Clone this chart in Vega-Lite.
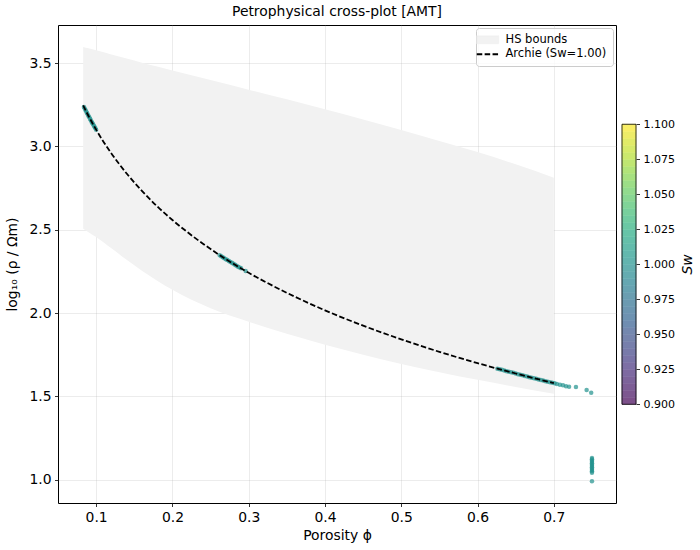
{
  "$schema": "https://vega.github.io/schema/vega-lite/v6.json",
  "padding": {"left": 5, "right": 3, "top": 4, "bottom": 5},
  "spacing": 6,
  "bounds": "flush",
  "resolve": {"scale": {"color": "independent", "fill": "independent"}, "legend": {"color": "independent"}},
  "datasets": {
    "hs": [
      {"phi": 0.083, "upper": 3.596, "lower": 2.505, "series": "HS bounds"},
      {"phi": 0.09, "upper": 3.588, "lower": 2.485, "series": "HS bounds"},
      {"phi": 0.10, "upper": 3.576, "lower": 2.456, "series": "HS bounds"},
      {"phi": 0.12, "upper": 3.551, "lower": 2.388, "series": "HS bounds"},
      {"phi": 0.14, "upper": 3.527, "lower": 2.319, "series": "HS bounds"},
      {"phi": 0.16, "upper": 3.502, "lower": 2.254, "series": "HS bounds"},
      {"phi": 0.18, "upper": 3.479, "lower": 2.194, "series": "HS bounds"},
      {"phi": 0.20, "upper": 3.455, "lower": 2.139, "series": "HS bounds"},
      {"phi": 0.25, "upper": 3.398, "lower": 2.029, "series": "HS bounds"},
      {"phi": 0.30, "upper": 3.340, "lower": 1.948, "series": "HS bounds"},
      {"phi": 0.35, "upper": 3.282, "lower": 1.875, "series": "HS bounds"},
      {"phi": 0.40, "upper": 3.222, "lower": 1.810, "series": "HS bounds"},
      {"phi": 0.45, "upper": 3.161, "lower": 1.750, "series": "HS bounds"},
      {"phi": 0.50, "upper": 3.098, "lower": 1.694, "series": "HS bounds"},
      {"phi": 0.55, "upper": 3.032, "lower": 1.645, "series": "HS bounds"},
      {"phi": 0.60, "upper": 2.966, "lower": 1.599, "series": "HS bounds"},
      {"phi": 0.65, "upper": 2.892, "lower": 1.556, "series": "HS bounds"},
      {"phi": 0.70, "upper": 2.812, "lower": 1.516, "series": "HS bounds"}
    ],
    "archie": [
      {"phi": 0.083, "logrho": 3.246, "series": "Archie (Sw=1.00)"},
      {"phi": 0.09, "logrho": 3.182, "series": "Archie (Sw=1.00)"},
      {"phi": 0.10, "logrho": 3.100, "series": "Archie (Sw=1.00)"},
      {"phi": 0.11, "logrho": 3.025, "series": "Archie (Sw=1.00)"},
      {"phi": 0.12, "logrho": 2.957, "series": "Archie (Sw=1.00)"},
      {"phi": 0.13, "logrho": 2.895, "series": "Archie (Sw=1.00)"},
      {"phi": 0.14, "logrho": 2.837, "series": "Archie (Sw=1.00)"},
      {"phi": 0.16, "logrho": 2.733, "series": "Archie (Sw=1.00)"},
      {"phi": 0.18, "logrho": 2.640, "series": "Archie (Sw=1.00)"},
      {"phi": 0.20, "logrho": 2.558, "series": "Archie (Sw=1.00)"},
      {"phi": 0.22, "logrho": 2.484, "series": "Archie (Sw=1.00)"},
      {"phi": 0.24, "logrho": 2.416, "series": "Archie (Sw=1.00)"},
      {"phi": 0.26, "logrho": 2.353, "series": "Archie (Sw=1.00)"},
      {"phi": 0.28, "logrho": 2.295, "series": "Archie (Sw=1.00)"},
      {"phi": 0.30, "logrho": 2.241, "series": "Archie (Sw=1.00)"},
      {"phi": 0.33, "logrho": 2.167, "series": "Archie (Sw=1.00)"},
      {"phi": 0.36, "logrho": 2.099, "series": "Archie (Sw=1.00)"},
      {"phi": 0.40, "logrho": 2.016, "series": "Archie (Sw=1.00)"},
      {"phi": 0.45, "logrho": 1.924, "series": "Archie (Sw=1.00)"},
      {"phi": 0.50, "logrho": 1.842, "series": "Archie (Sw=1.00)"},
      {"phi": 0.55, "logrho": 1.767, "series": "Archie (Sw=1.00)"},
      {"phi": 0.60, "logrho": 1.699, "series": "Archie (Sw=1.00)"},
      {"phi": 0.65, "logrho": 1.637, "series": "Archie (Sw=1.00)"},
      {"phi": 0.70, "logrho": 1.579, "series": "Archie (Sw=1.00)"}
    ],
    "samples": [
      {"phi": 0.084, "logrho": 3.236, "sw": 1.0},
      {"phi": 0.085, "logrho": 3.227, "sw": 1.0},
      {"phi": 0.086, "logrho": 3.218, "sw": 1.0},
      {"phi": 0.087, "logrho": 3.209, "sw": 1.0},
      {"phi": 0.088, "logrho": 3.200, "sw": 1.0},
      {"phi": 0.089, "logrho": 3.191, "sw": 1.0},
      {"phi": 0.090, "logrho": 3.182, "sw": 1.0},
      {"phi": 0.091, "logrho": 3.174, "sw": 1.0},
      {"phi": 0.092, "logrho": 3.165, "sw": 1.0},
      {"phi": 0.093, "logrho": 3.157, "sw": 1.0},
      {"phi": 0.094, "logrho": 3.148, "sw": 1.0},
      {"phi": 0.095, "logrho": 3.140, "sw": 1.0},
      {"phi": 0.096, "logrho": 3.132, "sw": 1.0},
      {"phi": 0.097, "logrho": 3.124, "sw": 1.0},
      {"phi": 0.098, "logrho": 3.116, "sw": 1.0},
      {"phi": 0.099, "logrho": 3.108, "sw": 1.0},
      {"phi": 0.100, "logrho": 3.100, "sw": 1.0},
      {"phi": 0.262, "logrho": 2.347, "sw": 1.0},
      {"phi": 0.264, "logrho": 2.341, "sw": 1.0},
      {"phi": 0.266, "logrho": 2.335, "sw": 1.0},
      {"phi": 0.268, "logrho": 2.329, "sw": 1.0},
      {"phi": 0.270, "logrho": 2.323, "sw": 1.0},
      {"phi": 0.272, "logrho": 2.318, "sw": 1.0},
      {"phi": 0.274, "logrho": 2.312, "sw": 1.0},
      {"phi": 0.276, "logrho": 2.306, "sw": 1.0},
      {"phi": 0.278, "logrho": 2.301, "sw": 1.0},
      {"phi": 0.280, "logrho": 2.295, "sw": 1.0},
      {"phi": 0.282, "logrho": 2.290, "sw": 1.0},
      {"phi": 0.284, "logrho": 2.284, "sw": 1.0},
      {"phi": 0.286, "logrho": 2.278, "sw": 1.0},
      {"phi": 0.288, "logrho": 2.273, "sw": 1.0},
      {"phi": 0.290, "logrho": 2.268, "sw": 1.0},
      {"phi": 0.296, "logrho": 2.252, "sw": 1.0},
      {"phi": 0.626, "logrho": 1.666, "sw": 1.0},
      {"phi": 0.629, "logrho": 1.662, "sw": 1.0},
      {"phi": 0.632, "logrho": 1.659, "sw": 1.0},
      {"phi": 0.635, "logrho": 1.655, "sw": 1.0},
      {"phi": 0.638, "logrho": 1.651, "sw": 1.0},
      {"phi": 0.641, "logrho": 1.648, "sw": 1.0},
      {"phi": 0.644, "logrho": 1.644, "sw": 1.0},
      {"phi": 0.647, "logrho": 1.641, "sw": 1.0},
      {"phi": 0.650, "logrho": 1.637, "sw": 1.0},
      {"phi": 0.653, "logrho": 1.633, "sw": 1.0},
      {"phi": 0.656, "logrho": 1.630, "sw": 1.0},
      {"phi": 0.659, "logrho": 1.626, "sw": 1.0},
      {"phi": 0.662, "logrho": 1.622, "sw": 1.0},
      {"phi": 0.665, "logrho": 1.619, "sw": 1.0},
      {"phi": 0.668, "logrho": 1.615, "sw": 1.0},
      {"phi": 0.671, "logrho": 1.612, "sw": 1.0},
      {"phi": 0.674, "logrho": 1.608, "sw": 1.0},
      {"phi": 0.677, "logrho": 1.605, "sw": 1.0},
      {"phi": 0.680, "logrho": 1.601, "sw": 1.0},
      {"phi": 0.683, "logrho": 1.598, "sw": 1.0},
      {"phi": 0.686, "logrho": 1.595, "sw": 1.0},
      {"phi": 0.689, "logrho": 1.591, "sw": 1.0},
      {"phi": 0.692, "logrho": 1.588, "sw": 1.0},
      {"phi": 0.695, "logrho": 1.585, "sw": 1.0},
      {"phi": 0.698, "logrho": 1.581, "sw": 1.0},
      {"phi": 0.701, "logrho": 1.578, "sw": 1.0},
      {"phi": 0.704, "logrho": 1.574, "sw": 1.0},
      {"phi": 0.708, "logrho": 1.570, "sw": 1.0},
      {"phi": 0.712, "logrho": 1.566, "sw": 1.0},
      {"phi": 0.716, "logrho": 1.561, "sw": 1.0},
      {"phi": 0.720, "logrho": 1.558, "sw": 1.0},
      {"phi": 0.729, "logrho": 1.556, "sw": 1.0},
      {"phi": 0.743, "logrho": 1.538, "sw": 1.0},
      {"phi": 0.749, "logrho": 1.522, "sw": 1.0},
      {"phi": 0.750, "logrho": 1.130, "sw": 1.0},
      {"phi": 0.750, "logrho": 1.122, "sw": 1.0},
      {"phi": 0.750, "logrho": 1.114, "sw": 1.0},
      {"phi": 0.750, "logrho": 1.106, "sw": 1.0},
      {"phi": 0.750, "logrho": 1.098, "sw": 1.0},
      {"phi": 0.750, "logrho": 1.090, "sw": 1.0},
      {"phi": 0.750, "logrho": 1.082, "sw": 1.0},
      {"phi": 0.750, "logrho": 1.074, "sw": 1.0},
      {"phi": 0.750, "logrho": 1.066, "sw": 1.0},
      {"phi": 0.750, "logrho": 1.058, "sw": 1.0},
      {"phi": 0.750, "logrho": 1.050, "sw": 1.0},
      {"phi": 0.750, "logrho": 1.042, "sw": 1.0},
      {"phi": 0.750, "logrho": 0.990, "sw": 1.0}
    ],
    "cbar": [
      {"sw": 0.9025, "lo": 0.900, "hi": 0.905},
      {"sw": 0.9075, "lo": 0.905, "hi": 0.910},
      {"sw": 0.9125, "lo": 0.910, "hi": 0.915},
      {"sw": 0.9175, "lo": 0.915, "hi": 0.920},
      {"sw": 0.9225, "lo": 0.920, "hi": 0.925},
      {"sw": 0.9275, "lo": 0.925, "hi": 0.930},
      {"sw": 0.9325, "lo": 0.930, "hi": 0.935},
      {"sw": 0.9375, "lo": 0.935, "hi": 0.940},
      {"sw": 0.9425, "lo": 0.940, "hi": 0.945},
      {"sw": 0.9475, "lo": 0.945, "hi": 0.950},
      {"sw": 0.9525, "lo": 0.950, "hi": 0.955},
      {"sw": 0.9575, "lo": 0.955, "hi": 0.960},
      {"sw": 0.9625, "lo": 0.960, "hi": 0.965},
      {"sw": 0.9675, "lo": 0.965, "hi": 0.970},
      {"sw": 0.9725, "lo": 0.970, "hi": 0.975},
      {"sw": 0.9775, "lo": 0.975, "hi": 0.980},
      {"sw": 0.9825, "lo": 0.980, "hi": 0.985},
      {"sw": 0.9875, "lo": 0.985, "hi": 0.990},
      {"sw": 0.9925, "lo": 0.990, "hi": 0.995},
      {"sw": 0.9975, "lo": 0.995, "hi": 1.000},
      {"sw": 1.0025, "lo": 1.000, "hi": 1.005},
      {"sw": 1.0075, "lo": 1.005, "hi": 1.010},
      {"sw": 1.0125, "lo": 1.010, "hi": 1.015},
      {"sw": 1.0175, "lo": 1.015, "hi": 1.020},
      {"sw": 1.0225, "lo": 1.020, "hi": 1.025},
      {"sw": 1.0275, "lo": 1.025, "hi": 1.030},
      {"sw": 1.0325, "lo": 1.030, "hi": 1.035},
      {"sw": 1.0375, "lo": 1.035, "hi": 1.040},
      {"sw": 1.0425, "lo": 1.040, "hi": 1.045},
      {"sw": 1.0475, "lo": 1.045, "hi": 1.050},
      {"sw": 1.0525, "lo": 1.050, "hi": 1.055},
      {"sw": 1.0575, "lo": 1.055, "hi": 1.060},
      {"sw": 1.0625, "lo": 1.060, "hi": 1.065},
      {"sw": 1.0675, "lo": 1.065, "hi": 1.070},
      {"sw": 1.0725, "lo": 1.070, "hi": 1.075},
      {"sw": 1.0775, "lo": 1.075, "hi": 1.080},
      {"sw": 1.0825, "lo": 1.080, "hi": 1.085},
      {"sw": 1.0875, "lo": 1.085, "hi": 1.090},
      {"sw": 1.0925, "lo": 1.090, "hi": 1.095},
      {"sw": 1.0975, "lo": 1.095, "hi": 1.100}
    ],
    "cbarframe": [
      {"lo": 0.9, "hi": 1.1}
    ]
  },
  "hconcat": [
    {
      "title": {"text": "Petrophysical cross-plot [AMT]", "offset": 6},
      "width": 558,
      "height": 478,
      "encoding": {
        "x": {
          "field": "phi",
          "type": "quantitative",
          "scale": {"domain": [0.05, 0.7815], "nice": false, "zero": false},
          "axis": {"title": "Porosity ϕ", "values": [0.1, 0.2, 0.3, 0.4, 0.5, 0.6, 0.7], "format": ".1f", "titlePadding": 5}
        }
      },
      "layer": [
        {
          "data": {"name": "hs"},
          "mark": {"type": "area", "fillOpacity": 1, "interpolate": "monotone"},
          "encoding": {
            "y": {
              "field": "upper",
              "type": "quantitative",
              "scale": {"domain": [0.86, 3.728], "nice": false, "zero": false},
              "axis": {"title": "log₁₀ (ρ / Ωm)", "values": [1.0, 1.5, 2.0, 2.5, 3.0, 3.5], "format": ".1f", "titlePadding": 9}
            },
            "y2": {"field": "lower"},
            "color": {
              "field": "series",
              "type": "nominal",
              "scale": {"domain": ["HS bounds", "Archie (Sw=1.00)"], "range": ["#f2f2f2", "#000000"]},
              "legend": {
                "title": null,
                "orient": "top-right",
                "offset": 3,
                "padding": 6,
                "strokeColor": "#cccccc",
                "fillColor": "rgba(255,255,255,0.8)",
                "cornerRadius": 3,
                "labelFontSize": 11.5,
                "labelColor": "black",
                "labelOffset": 12,
                "labelLimit": 250,
                "symbolSize": 196,
                "rowPadding": 1.5,
                "encode": {
                  "symbols": {
                    "update": {
                      "shape": {"signal": "datum.value === 'HS bounds' ? 'M-1.57,-0.57H1.57V0.57H-1.57Z' : 'M-1.57,0H1.57'"},
                      "strokeDash": {"signal": "datum.value === 'HS bounds' ? [1, 0] : [5.5, 2.4]"},
                      "strokeWidth": {"signal": "datum.value === 'HS bounds' ? 0.6 : 1.8"},
                      "opacity": {"value": 1}
                    }
                  }
                }
              }
            }
          }
        },
        {
          "data": {"name": "samples"},
          "mark": {"type": "circle", "size": 20, "fillOpacity": 0.7, "opacity": 1},
          "encoding": {
            "y": {
              "field": "logrho",
              "type": "quantitative",
              "scale": {"domain": [0.86, 3.728], "nice": false, "zero": false},
              "axis": {"title": "log₁₀ (ρ / Ωm)", "values": [1.0, 1.5, 2.0, 2.5, 3.0, 3.5], "format": ".1f", "titlePadding": 9}
            },
            "fill": {
              "field": "sw",
              "type": "quantitative",
              "scale": {"scheme": "viridis", "domain": [0.9, 1.1]},
              "legend": null
            }
          }
        },
        {
          "data": {"name": "archie"},
          "mark": {"type": "line", "strokeWidth": 1.8, "strokeDash": [5.5, 2.4], "interpolate": "monotone"},
          "encoding": {
            "y": {
              "field": "logrho",
              "type": "quantitative",
              "scale": {"domain": [0.86, 3.728], "nice": false, "zero": false},
              "axis": {"title": "log₁₀ (ρ / Ωm)", "values": [1.0, 1.5, 2.0, 2.5, 3.0, 3.5], "format": ".1f", "titlePadding": 9}
            },
            "color": {
              "field": "series",
              "type": "nominal",
              "scale": {"domain": ["HS bounds", "Archie (Sw=1.00)"], "range": ["#f2f2f2", "#000000"]},
              "legend": {
                "title": null,
                "orient": "top-right",
                "offset": 3,
                "padding": 6,
                "strokeColor": "#cccccc",
                "fillColor": "rgba(255,255,255,0.8)",
                "cornerRadius": 3,
                "labelFontSize": 11.5,
                "labelColor": "black",
                "labelOffset": 12,
                "labelLimit": 250,
                "symbolSize": 196,
                "rowPadding": 1.5,
                "encode": {
                  "symbols": {
                    "update": {
                      "shape": {"signal": "datum.value === 'HS bounds' ? 'M-1.57,-0.57H1.57V0.57H-1.57Z' : 'M-1.57,0H1.57'"},
                      "strokeDash": {"signal": "datum.value === 'HS bounds' ? [1, 0] : [5.5, 2.4]"},
                      "strokeWidth": {"signal": "datum.value === 'HS bounds' ? 0.6 : 1.8"},
                      "opacity": {"value": 1}
                    }
                  }
                }
              }
            }
          }
        }
      ]
    },
    {
      "width": 14,
      "height": 478,
      "view": {"stroke": null},
      "layer": [
        {
          "data": {"name": "cbar"},
          "mark": {"type": "rect", "strokeWidth": 0.6},
          "encoding": {
            "y": {
              "field": "lo",
              "type": "quantitative",
              "scale": {"domain": [0.8295, 1.1709], "nice": false, "zero": false},
              "axis": {
                "orient": "right",
                "grid": false,
                "values": [0.9, 0.925, 0.95, 0.975, 1.0, 1.025, 1.05, 1.075, 1.1],
                "format": ".3f",
                "labelFontSize": 11,
                "title": "Sw",
                "titleFontStyle": "italic",
                "titleAngle": 270,
                "titleBaseline": "top",
                "titlePadding": 6
              }
            },
            "y2": {"field": "hi"},
            "fill": {
              "field": "sw",
              "type": "quantitative",
              "scale": {
                "domain": [0.9, 0.925, 0.95, 0.975, 1.0, 1.025, 1.05, 1.075, 1.1],
                "range": ["#7c4d87", "#7e6ca3", "#7686ae", "#6b9cb0", "#64b2af", "#68c6a6", "#8ed991", "#c6e76e", "#feee66"]
              },
              "legend": null
            },
            "stroke": {
              "field": "sw",
              "type": "quantitative",
              "scale": {
                "domain": [0.9, 0.925, 0.95, 0.975, 1.0, 1.025, 1.05, 1.075, 1.1],
                "range": ["#7c4d87", "#7e6ca3", "#7686ae", "#6b9cb0", "#64b2af", "#68c6a6", "#8ed991", "#c6e76e", "#feee66"]
              },
              "legend": null
            }
          }
        },
        {
          "data": {"name": "cbarframe"},
          "mark": {"type": "rect", "fill": null, "stroke": "black", "strokeWidth": 0.8},
          "encoding": {
            "y": {"field": "lo", "type": "quantitative", "scale": {"domain": [0.8295, 1.1709], "nice": false, "zero": false}},
            "y2": {"field": "hi"}
          }
        }
      ]
    }
  ],
  "config": {
    "font": "DejaVu Sans",
    "view": {"stroke": "black", "strokeWidth": 1},
    "axis": {
      "domain": false,
      "tickColor": "black",
      "tickSize": 3.5,
      "tickWidth": 0.8,
      "labelColor": "black",
      "labelFont": "DejaVu Sans",
      "labelFontSize": 13.9,
      "labelPadding": 3.5,
      "titleFont": "DejaVu Sans",
      "titleFontSize": 13.9,
      "titleFontWeight": "normal",
      "titleColor": "black",
      "gridColor": "#b0b0b0",
      "gridOpacity": 0.3,
      "gridWidth": 0.8,
      "zindex": 1
    },
    "legend": {"labelFont": "DejaVu Sans", "zindex": 2},
    "title": {"font": "DejaVu Sans", "fontSize": 13.9, "fontWeight": "normal", "color": "black"}
  }
}
